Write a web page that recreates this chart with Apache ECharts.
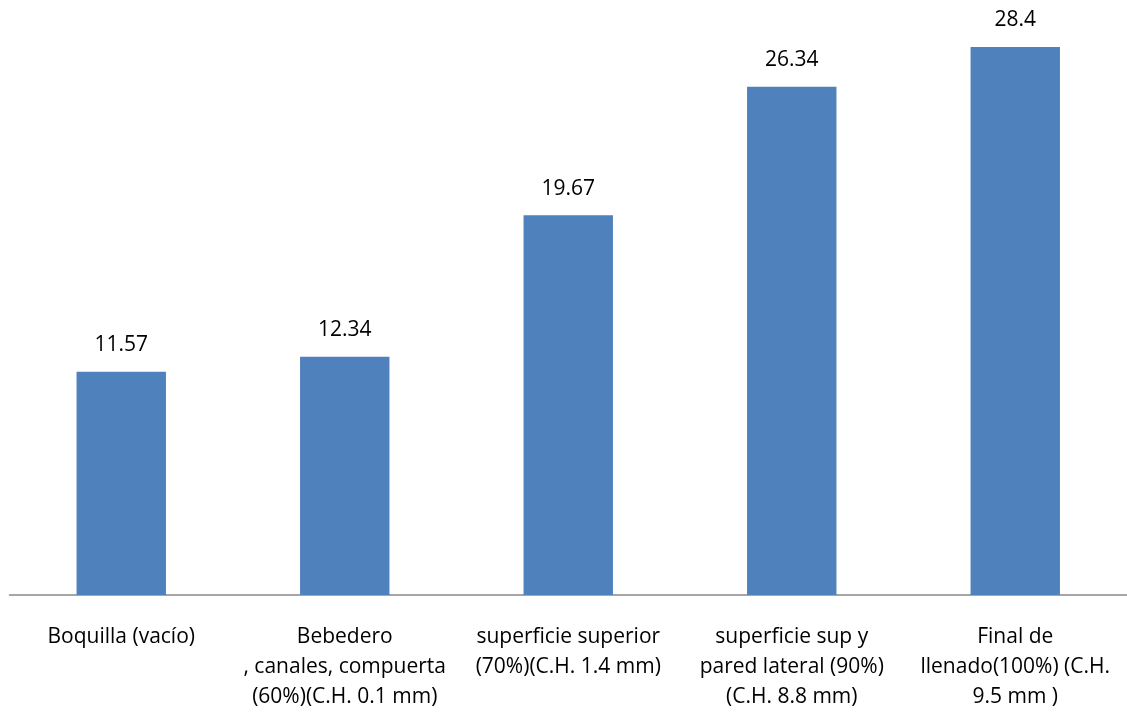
<!DOCTYPE html>
<html>
<head>
<meta charset="utf-8">
<script src="https://cdn.jsdelivr.net/npm/echarts@6/dist/echarts.min.js"></script>
<style>
  html, body { margin: 0; padding: 0; background: #fff; }
  #chart-container { width: 1127px; height: 715px; }
</style>
</head>
<body>
<div id="chart-container"></div>
<script>
var dom = document.getElementById('chart-container');
var myChart = echarts.init(dom, null, { renderer: 'canvas' });

// categories (wrapped like the original)
var categories = [
    'Boquilla (vacío)',
    'Bebedero\n, canales, compuerta\n(60%)(C.H. 0.1 mm)',
    'superficie superior\n(70%)(C.H. 1.4 mm)',
    'superficie sup y\npared lateral (90%)\n(C.H. 8.8 mm)',
    'Final de\nllenado(100%) (C.H.\n9.5 mm )'
];
var values = [11.57, 12.34, 19.67, 26.34, 28.4];

var option = {
    textStyle: { fontFamily: 'Open Sans' },
    grid: { left: 9.5, right: 0, top: 16, bottom: 120, containLabel: false },
    xAxis: {
        type: 'category',
        data: categories,
        axisLine: { lineStyle: { color: '#898989', width: 1.5 } },
        axisTick: { show: false },
        axisLabel: {
            interval: 0,
            margin: 27,
            color: '#000',
            fontSize: 21,
            lineHeight: 30,
            fontFamily: 'Open Sans'
        }
    },
    yAxis: {
        type: 'value',
        min: 0,
        max: 30,
        show: false,
        splitLine: { show: false }
    },
    series: [{
        type: 'bar',
        data: values,
        barWidth: '40%',
        itemStyle: { color: '#4F81BD' },
        label: {
            show: true,
            position: 'top',
            distance: 16,
            color: '#000',
            fontSize: 21,
            fontFamily: 'Open Sans'
        }
    }]
};

myChart.setOption(option);
window.addEventListener('resize', myChart.resize);
</script>
</body>
</html>
